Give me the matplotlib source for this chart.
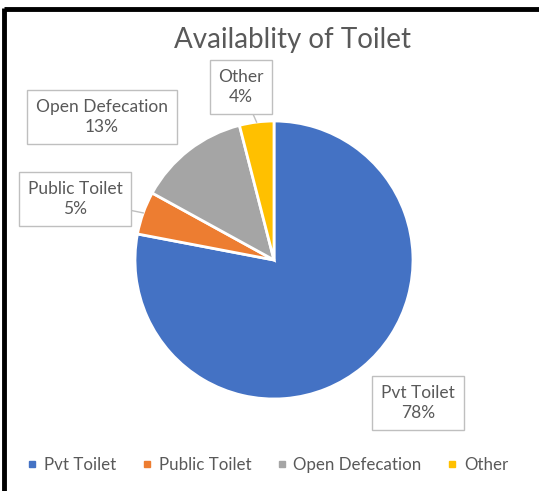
import matplotlib.pyplot as plt
from matplotlib.lines import Line2D
import numpy as np

plt.rcParams['font.family'] = ['Lato', 'DejaVu Sans']

categories = ['Pvt Toilet', 'Public Toilet', 'Open Defecation', 'Other']
shares = [78, 5, 13, 4]
colors = ['#4472C4', '#ED7D31', '#A5A5A5', '#FFC000']
# label box centres (pixels from top-left)
label_pos = [(418, 403), (75, 199), (102, 117), (241, 87)]
show_tail = [False, True, False, True]

W, H = 539, 491
fig = plt.figure(figsize=(W / 100, H / 100), dpi=100)
ax = fig.add_axes([0, 0, 1, 1])

cx, cy, r = 274, H - 260, 139
wedges, _ = ax.pie(shares, colors=colors, startangle=90, counterclock=False,
                   center=(cx, cy), radius=r, frame=True,
                   wedgeprops=dict(edgecolor='white', linewidth=2))
ax.set_xlim(0, W)
ax.set_ylim(0, H)
ax.set_aspect('equal')
ax.axis('off')

for w, name, val, (lx, ly), tail in zip(wedges, categories, shares, label_pos, show_tail):
    if tail:
        mid = np.deg2rad((w.theta1 + w.theta2) / 2)
        px, py = cx + r * np.cos(mid), cy + r * np.sin(mid)
        ax.plot([lx + (px - lx) * 0.55, px], [H - ly + (py - H + ly) * 0.55, py],
                color='#BFBFBF', lw=1, zorder=1)
    ax.text(lx, H - ly, f'{name}\n{val}%', ha='center', va='center',
            fontsize=12.5, color='#595959', linespacing=1.35, zorder=5,
            bbox=dict(boxstyle='square,pad=0.5', fc='white', ec='#BFBFBF', lw=1))

ax.text(293, H - 40, 'Availablity of Toilet', ha='center', va='center',
        fontsize=20, color='#595959')

# frame edges seen in the screenshot
ax.plot([4, 4], [0, H - 8], color='black', lw=3.5, solid_capstyle='butt')
ax.plot([4, W], [H - 9, H - 9], color='black', lw=3.5, solid_capstyle='butt')

handles = [Line2D([], [], marker='s', ls='', color=c, markersize=5) for c in colors]
fig.legend(handles, categories, loc='center', bbox_to_anchor=(0.495, 1 - 465 / H),
           ncol=4, frameon=False, fontsize=12.2, labelcolor='#595959',
           handletextpad=0.3, columnspacing=1.4, handlelength=0.8)

fig.savefig('out.png', dpi=100)
